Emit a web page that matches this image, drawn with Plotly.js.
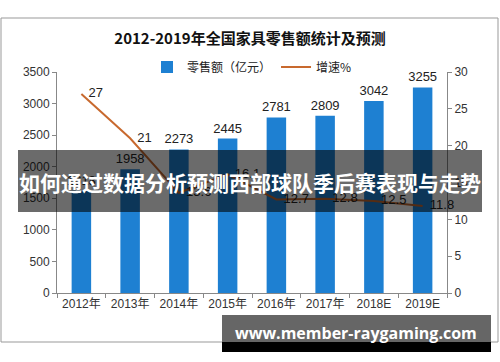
<!DOCTYPE html>
<html>
<head>
<meta charset="utf-8">
<script src="https://cdn.plot.ly/plotly-3.0.1.min.js"></script>
<style>html,body{margin:0;padding:0;background:#fff;}#chart{width:500px;height:362px;}</style>
</head>
<body>
<div id="chart"></div>
<script>
var categories = ['2012年','2013年','2014年','2015年','2016年','2017年','2018E','2019E'];
var sales = [1618, 1958, 2273, 2445, 2781, 2809, 3042, 3255];
var growth = [27, 21, 13.6, 16.1, 12.7, 12.8, 12.5, 11.8];
var growthLabels = ['27', '21', '13.6', '16.1', '12.7', '12.8', '12.5', '11.8'];
var leftTicks = [0, 500, 1000, 1500, 2000, 2500, 3000, 3500];
var rightTicks = [0, 5, 10, 15, 20, 25, 30];

var fontCN = '"Liberation Sans", "Noto Sans CJK SC", sans-serif';

var bars = {
  type: 'bar', name: '零售额（亿元）', x: categories, y: sales,
  marker: {color: '#1e80d2'},
  text: sales.map(String), textposition: 'outside', cliponaxis: false, constraintext: 'none',
  textfont: {family: fontCN, size: 13, color: '#222'}
};
var line = {
  type: 'scatter', mode: 'lines+text', name: '增速%', x: categories, y: growth,
  yaxis: 'y2', line: {color: '#c8692e', width: 2},
  text: growthLabels.map(function(s){return '  ' + s;}), textposition: 'middle right', cliponaxis: false,
  textfont: {family: fontCN, size: 13, color: '#222'}
};

function px(p){return (p-57)/390;}
function py(p){return (293-p)/221;}

var layout = {
  width: 500, height: 362,
  margin: {l: 57, r: 53, t: 72, b: 69},
  paper_bgcolor: '#fff', plot_bgcolor: '#fff',
  showlegend: true,
  font: {family: fontCN, size: 12, color: '#333'},
  title: {text: '<b>2012-2019年全国家具零售额统计及预测</b>', x: 0.5, xanchor: 'center', y: 1 - 39/362, yanchor: 'middle', yref: 'container',
          font: {family: '"Noto Sans CJK SC", sans-serif', size: 15, color: '#111'}},
  legend: {orientation: 'h', x: 0.5, xanchor: 'center', y: py(67), yanchor: 'middle',
           font: {family: '"Noto Sans CJK SC", sans-serif', size: 12, color: '#222'}, bgcolor: 'rgba(0,0,0,0)'},
  bargap: 0.6,
  xaxis: {type: 'category', showline: true, linecolor: '#888', linewidth: 1, ticks: 'outside', tickson: 'boundaries',
          ticklen: 4, tickcolor: '#888', showgrid: false, tickfont: {size: 12, color: '#333'}},
  yaxis: {range: [0, 3500], tickvals: leftTicks, showline: true, linecolor: '#888', ticks: 'outside', ticklen: 4,
          tickcolor: '#888', showgrid: false, zeroline: false, tickfont: {size: 12, color: '#333'}},
  yaxis2: {range: [0, 30], tickvals: rightTicks, overlaying: 'y', side: 'right', showline: true, linecolor: '#888',
           ticks: 'outside', ticklen: 4, tickcolor: '#888', showgrid: false, zeroline: false, tickfont: {size: 12, color: '#333'}},
  shapes: [
    {type: 'rect', xref: 'paper', yref: 'paper', x0: px(1), x1: px(498), y0: py(342), y1: py(18),
     line: {color: '#999', width: 1}, fillcolor: 'rgba(0,0,0,0)', layer: 'below'},
    {type: 'rect', xref: 'paper', yref: 'paper', x0: px(18), x1: px(482), y0: py(212), y1: py(150),
     line: {width: 0}, fillcolor: 'rgba(0,0,0,0.58)', layer: 'above'},
    {type: 'rect', xref: 'paper', yref: 'paper', x0: px(222), x1: px(491), y0: py(342), y1: py(315),
     line: {width: 0}, fillcolor: '#666', layer: 'above'},
    {type: 'rect', xref: 'paper', yref: 'paper', x0: px(222), x1: px(491), y0: py(352), y1: py(342),
     line: {width: 0}, fillcolor: '#000', layer: 'above'}
  ],
  annotations: [
    {xref: 'paper', yref: 'paper', x: px(250), y: py(182), xanchor: 'center', yanchor: 'middle', showarrow: false,
     text: '<b>如何通过数据分析预测西部球队季后赛表现与走势</b>',
     font: {family: '"Noto Sans CJK SC", sans-serif', size: 21, color: '#fff'}},
    {xref: 'paper', yref: 'paper', x: px(356), y: py(333), xanchor: 'center', yanchor: 'middle', showarrow: false,
     text: '<b>www.member-raygaming.com</b>',
     font: {family: '"Open Sans", sans-serif', size: 16, color: '#fff'}}
  ]
};

Plotly.newPlot('chart', [bars, line], layout, {displayModeBar: false, staticPlot: true});
</script>
</body>
</html>
